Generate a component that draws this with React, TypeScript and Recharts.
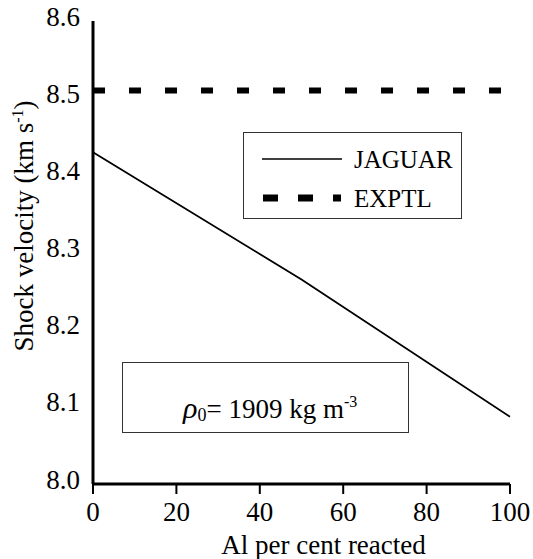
import { LineChart, Line, XAxis, YAxis, Legend } from 'recharts'

const reacted = [0, 50, 100]
const jaguar = [8.43, 8.265, 8.087]
const exptl = [8.51, 8.51, 8.51]
const xTicks = [0, 20, 40, 60, 80, 100]
const yTicks = [8.0, 8.1, 8.2, 8.3, 8.4, 8.5, 8.6]

const data = reacted.map((x, i) => ({ x, jaguar: jaguar[i], exptl: exptl[i] }))

const FONT = 'Liberation Serif, serif'
const W = 533
const H = 559

function LegendBox() {
  return (
    <div style={{ width: 219, height: 87, border: '1.5px solid #333', boxSizing: 'border-box', background: '#fff' }}>
      <svg width={216} height={84} style={{ display: 'block' }}>
        <line x1={18} x2={98} y1={26} y2={26} stroke="#000" strokeWidth={1.5} />
        <text x={110} y={35} style={{ fontFamily: FONT, fontSize: 25 }} fill="#000">JAGUAR</text>
        <line x1={19} x2={97} y1={65} y2={65} stroke="#000" strokeWidth={7} strokeDasharray="15 20" />
        <text x={110} y={74} style={{ fontFamily: FONT, fontSize: 25 }} fill="#000">EXPTL</text>
      </svg>
    </div>
  )
}

function YTitle() {
  return (
    <text
      x={0}
      y={0}
      transform="translate(33, 226) rotate(-90)"
      textAnchor="middle"
      style={{ fontFamily: FONT, fontSize: 27 }}
      fill="#000"
    >
      Shock velocity (km s
      <tspan fontSize={16} dy={-10}>-1</tspan>
      <tspan dy={10}>)</tspan>
    </text>
  )
}

export default function App() {
  return (
    <div style={{ position: 'absolute', left: 0, top: 0, width: W, height: H, background: '#fff', fontFamily: FONT }}>
      <LineChart width={W} height={H} data={data} margin={{ top: 21, right: 23, left: 0, bottom: 0 }} style={{ fontFamily: FONT }}>
        <XAxis
          dataKey="x"
          type="number"
          domain={[0, 100]}
          ticks={xTicks}
          height={75}
          axisLine={{ stroke: '#000', strokeWidth: 3 }}
          tickLine={{ stroke: '#000', strokeWidth: 2 }}
          tickSize={10}
          tickMargin={8}
          tick={{ fill: '#000', fontSize: 27, style: { fontFamily: FONT } }}
          label={{ value: 'Al per cent reacted', position: 'insideBottom', offset: 5, dx: 22, fill: '#000', fontSize: 27, style: { fontFamily: FONT } }}
        />
        <XAxis
          xAxisId="top"
          orientation="top"
          dataKey="x"
          type="number"
          domain={[0, 100]}
          height={0}
          tick={false}
          tickLine={false}
          axisLine={{ stroke: '#000', strokeWidth: 3 }}
        />
        <YAxis
          type="number"
          domain={[8.0, 8.6]}
          ticks={yTicks}
          width={93}
          axisLine={{ stroke: '#000', strokeWidth: 3 }}
          tickLine={false}
          tickSize={0}
          tickMargin={13}
          tickFormatter={(v: number) => v.toFixed(1)}
          tick={{ fill: '#000', fontSize: 27, dy: -5, style: { fontFamily: FONT } }}
          label={{ content: () => <YTitle /> }}
        />
        <YAxis
          yAxisId="right"
          orientation="right"
          type="number"
          domain={[8.0, 8.6]}
          width={0}
          tick={false}
          tickLine={false}
          axisLine={{ stroke: '#000', strokeWidth: 3 }}
        />
        <Legend
          layout="vertical"
          align="center"
          verticalAlign="middle"
          content={() => <LegendBox />}
          wrapperStyle={{ left: 243, top: 132, width: 219, height: 87 }}
        />
        <Line
          dataKey="exptl"
          stroke="#000"
          strokeWidth={6}
          strokeDasharray="12 24"
          dot={false}
          isAnimationActive={false}
        />
        <Line
          dataKey="jaguar"
          stroke="#000"
          strokeWidth={1.8}
          dot={false}
          isAnimationActive={false}
        />
      </LineChart>
      <div
        style={{
          position: 'absolute',
          left: 122,
          top: 362,
          width: 287,
          height: 71,
          border: '1.5px solid #333',
          boxSizing: 'border-box',
          background: '#fff',
        }}
      >
        <svg width={284} height={68} style={{ display: 'block' }}>
          <text x={60} y={55} style={{ fontFamily: FONT, fontSize: 27 }} fill="#000">
            <tspan fontStyle="italic" fontSize={30}>ρ</tspan>
            <tspan fontSize={18} dy={3}>0</tspan>
            <tspan dy={-3}>= 1909 kg m</tspan>
            <tspan fontSize={16} dy={-11}>-3</tspan>
          </text>
        </svg>
      </div>
    </div>
  )
}
